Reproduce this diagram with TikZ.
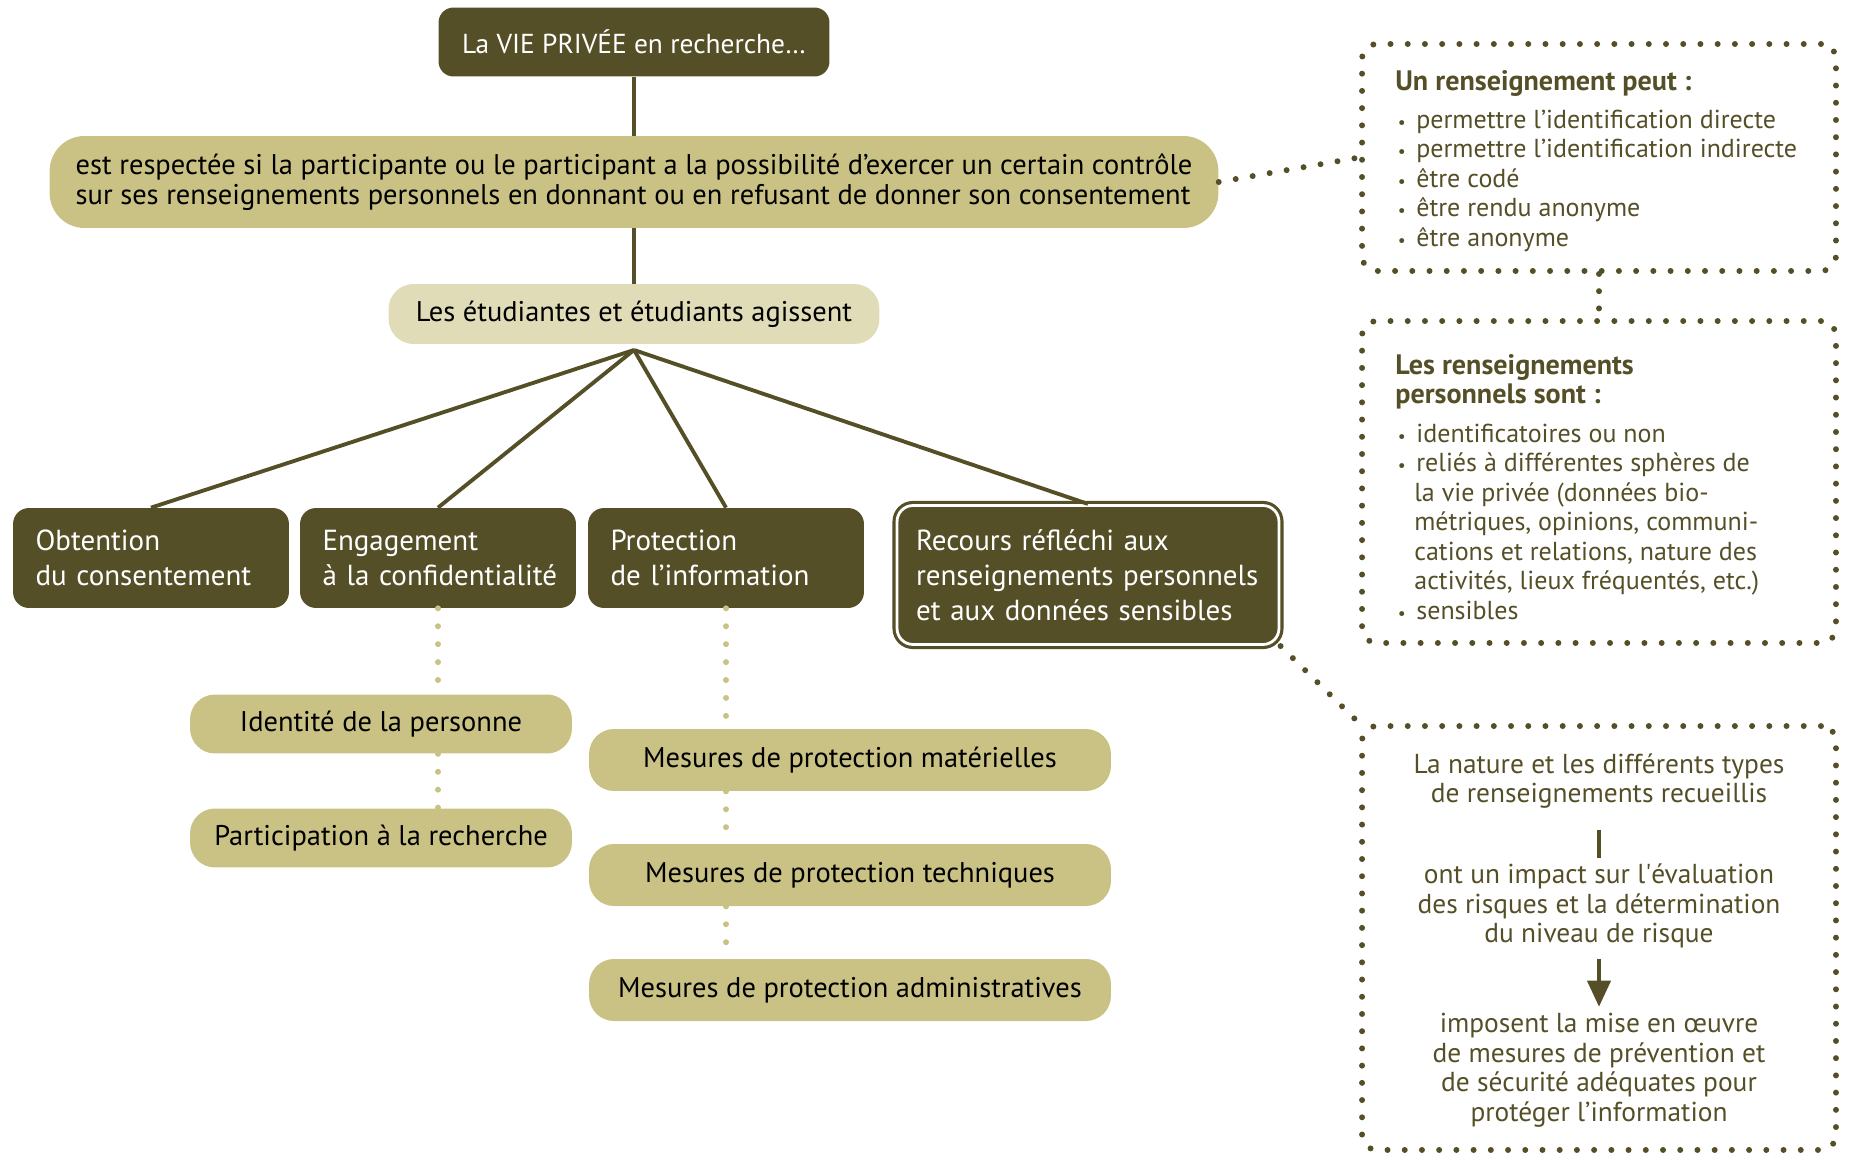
\documentclass[tikz,border=0pt]{standalone}
\usepackage{fontspec}
\setmainfont{PT Sans}
\usetikzlibrary{arrows.meta}

\definecolor{darkolive}{HTML}{554F28}
\definecolor{sandolive}{HTML}{C9C284}
\definecolor{paleolive}{HTML}{E0DCB8}

\hyphenpenalty=10000
\newcommand{\bul}{\makebox[0.42cm][l]{\hspace{0.05cm}{\fontsize{10}{10}\selectfont•}}}
\newcommand{\cont}{\hspace*{0.38cm}}
\newcommand{\notetitle}[1]{{\fontsize{16}{16.8}\selectfont\bfseries #1}}

\tikzset{
  headbox/.style={fill=darkolive, text=white, rounded corners=0.3cm, font=\fontsize{15.6}{18}\selectfont},
  stepbox/.style={fill=darkolive, text=white, rounded corners=0.32cm, minimum height=2cm,
    text width=4.62cm, inner xsep=0.45cm, align=left, font=\fontsize{16.5}{20}\selectfont},
  sandbox/.style={fill=sandolive, rounded corners=0.5cm, font=\fontsize{16.2}{17.2}\selectfont},
  dotbox/.style={draw=darkolive, line width=3.4pt, dash pattern=on 0pt off 9.8pt, line cap=round,
    rounded corners=0.3cm, minimum width=9.48cm},
  notetext/.style={text=darkolive, align=left, anchor=north west, inner sep=0pt,
    font=\fontsize{14.8}{16.8}\selectfont},
  boxtext/.style={text=darkolive, align=center, font=\fontsize{15.6}{16.8}\selectfont},
  trunk/.style={draw=darkolive, line width=2.2pt},
  sanddots/.style={draw=sandolive, line width=3.4pt, dash pattern=on 0pt off 10.2pt, line cap=round},
  olivedots/.style={draw=darkolive, line width=3.4pt, dash pattern=on 0pt off 9.8pt, line cap=round},
}

\begin{document}
\begin{tikzpicture}[x=0.02cm, y=-0.02cm]
\useasboundingbox (0,0) rectangle (1849,1155);

% main column
\node[headbox, minimum width=7.82cm, minimum height=1.38cm] (vie) at (634,42) {La VIE PRIVÉE en recherche…};
\node[sandbox, rounded corners=0.7cm, minimum width=23.38cm, minimum height=1.84cm, align=left] (resp) at (634,182)
  {est respectée si la participante ou le participant a la possibilité d’exercer un certain contrôle\\
   sur ses renseignements personnels en donnant ou en refusant de donner son consentement};
\node[sandbox, fill=paleolive, minimum width=9.82cm, minimum height=1.2cm] (etud) at (634,314) {Les étudiantes et étudiants agissent};
\coordinate (fan) at (634,350);

% the four actions
\node[stepbox] (obt) at (151,558) {Obtention\\du consentement};
\node[stepbox] (eng) at (438,558) {Engagement\\\mbox{à la confidentialité}};
\node[stepbox] (prot) at (726,558) {Protection\\de l’information};
\node[stepbox, text width=6.88cm, inner xsep=0.38cm, minimum height=2.78cm, draw=darkolive, line width=1.8pt,
  double=white, double distance=1.6pt] (rec) at (1088,575)
  {Recours réfléchi aux\\renseignements personnels\\et aux données sensibles};

\draw[trunk] (vie) -- (resp);
\draw[trunk] (resp) -- (etud);
\foreach \b in {obt,eng,prot,rec}
  \draw[trunk] (fan) -- (\b.north);

% sub items
\node[sandbox, minimum width=7.64cm, minimum height=1.18cm, text=black] (ident) at (381,724) {Identité de la personne};
\node[sandbox, minimum width=7.64cm, minimum height=1.18cm, text=black] (partic) at (381,838) {Participation à la recherche};
\node[sandbox, minimum width=10.44cm, minimum height=1.24cm, text=black] (mat) at (850,760) {Mesures de protection matérielles};
\node[sandbox, minimum width=10.44cm, minimum height=1.24cm, text=black] (tech) at (850,875) {Mesures de protection techniques};
\node[sandbox, minimum width=10.44cm, minimum height=1.24cm, text=black] (adm) at (850,990) {Mesures de protection administratives};

\draw[sanddots] (eng.south) -- (eng.south |- ident.north);
\draw[sanddots] (eng.south |- ident.south) -- (eng.south |- partic.north);
\draw[sanddots] (prot.south) -- (prot.south |- mat.north);
\draw[sanddots] (prot.south |- mat.south) -- (prot.south |- tech.north);
\draw[sanddots] (prot.south |- tech.south) -- (prot.south |- adm.north);

% right hand notes
\node[dotbox, minimum height=4.54cm] (rens) at (1599,157.5) {};
\node[notetext] (renstxt) at (1395,70)
  {\notetitle{Un renseignement peut :}\\[0.17cm]
   \bul permettre l’identification directe\\
   \bul permettre l’identification indirecte\\
   \bul être codé\\
   \bul être rendu anonyme\\
   \bul être anonyme};
\node[dotbox, minimum height=6.44cm] (perso) at (1599,482) {};
\node[notetext] (persotxt) at (1395,354)
  {\notetitle{Les renseignements}\\
   \notetitle{personnels sont :}\\[0.18cm]
   \bul identificatoires ou non\\
   \bul reliés à différentes sphères de\\
   \cont la vie privée (données bio-\\
   \cont métriques, opinions, communi-\\
   \cont cations et relations, nature des\\
   \cont activités, lieux fréquentés, etc.)\\
   \bul sensibles};
\node[dotbox, minimum height=8.48cm] (impact) at (1599,938) {};
\node[boxtext] (nat) at (1599,781) {La nature et les différents types\\de renseignements recueillis};
\node[boxtext] (eval) at (1599,906) {ont un impact sur l\textquotesingle évaluation\\des risques et la détermination\\du niveau de risque};
\node[boxtext] (mise) at (1599,1070) {imposent la mise en œuvre\\de mesures de prévention et\\de sécurité adéquates pour\\protéger l’information};

\draw[darkolive, line width=2.8pt, shorten <=0.3cm] (nat.south) -- (eval.north);
\draw[darkolive, line width=2.8pt, shorten <=0.1cm, -{Triangle[width=13pt,length=15pt]}] (eval.south) -- (mise.north);

\draw[olivedots] (resp.east) -- (rens.west);
\draw[olivedots] (rens.south) -- (perso.north);
\draw[olivedots] (rec.south east) -- (impact.north west);
\end{tikzpicture}
\end{document}
